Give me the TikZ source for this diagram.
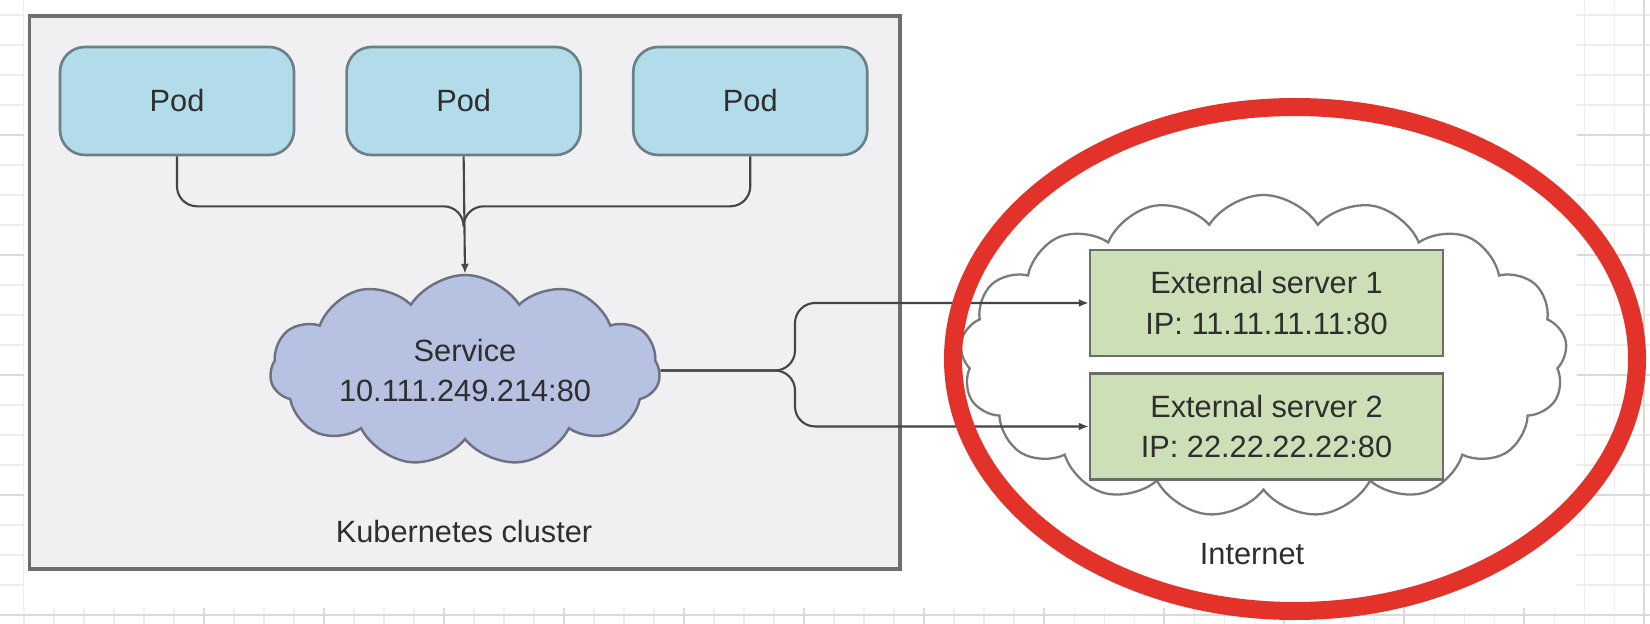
\documentclass[tikz,border=0pt]{standalone}
\usepackage{fontspec}
\setsansfont{Liberation Sans}
\usepackage{xcolor}
\usepackage{tikz}
\usetikzlibrary{arrows.meta, positioning, shapes.symbols, calc}

\definecolor{podfill}{HTML}{B3DCEB}
\definecolor{poddraw}{HTML}{6D7F86}
\definecolor{clusterfill}{HTML}{F0F0F2}
\definecolor{clusterdraw}{HTML}{6E6E6E}
\definecolor{svcfill}{HTML}{B7C2E3}
\definecolor{svcdraw}{HTML}{6E7180}
\definecolor{extfill}{HTML}{CCDFB6}
\definecolor{extdraw}{HTML}{6B6F66}
\definecolor{netdraw}{HTML}{7A7A7A}
\definecolor{linkgray}{HTML}{454545}
\definecolor{textgray}{HTML}{2E2E2E}
\definecolor{markred}{HTML}{E3322A}
\definecolor{gridfaint}{HTML}{EDEDED}
\definecolor{griddark}{HTML}{DADADA}

\begin{document}
\begin{tikzpicture}[
		node distance=1cm and 1cm,
		every node/.style={font=\sffamily\fontsize{17.5}{23}\selectfont, text=textgray},
		pod/.style={rectangle, draw=poddraw, line width=1.5pt, rounded corners=0.5cm, fill=podfill, minimum width=4.68cm, minimum height=2.16cm, text centered},
		cluster/.style={rectangle, draw=clusterdraw, line width=2pt, fill=clusterfill, minimum width=17.41cm, minimum height=11.06cm},
		service/.style={cloud, cloud puffs=11, cloud puff arc=115, cloud ignores aspect, draw=svcdraw, line width=1.4pt, fill=svcfill, minimum width=7.8cm, minimum height=3.82cm, align=center},
		internet/.style={cloud, cloud puffs=17, cloud puff arc=115, cloud ignores aspect, draw=netdraw, line width=1.3pt, fill=white, minimum width=12.14cm, minimum height=6.44cm},
		server/.style={rectangle, draw=extdraw, line width=1.4pt, fill=extfill, minimum width=7.06cm, minimum height=2.12cm, align=center},
		link/.style={draw=linkgray, line width=1.2pt, rounded corners=0.4cm},
		arrow/.style={link, -{Latex[length=2mm, width=1.6mm]}},
		gridline/.style={draw=gridfaint, line width=0.6pt},
		gridmajor/.style={draw=griddark, line width=0.7pt},
		highlight/.style={draw=markred, line width=0.36cm}
		]
		
		\useasboundingbox (0,0) rectangle (33,-12.48);
		
		% Sheet grid behind the screenshot
		\fill[white] (0,0) rectangle (33,-12.48);
		\foreach \gx in {0,...,54}
			\draw[gridline] (0.48+0.6*\gx,0) -- ++(0,-12.48);
		\foreach \gy in {0,...,20}
			\draw[gridline] (0,-0.3-0.6*\gy) -- ++(33,0);
		\foreach \gx in {0,...,12}
			\draw[gridmajor] (4.08+2.4*\gx,0) -- ++(0,-12.48);
		\foreach \gy in {0,...,4}
			\draw[gridmajor] (0,-2.7-2.4*\gy) -- ++(33,0);
		\fill[white] (0.48,0) rectangle (31.54,-12.16);
		
		% Nodes
		\node[cluster] (cluster) at (9.295,-5.85) {};
		\node (clusterlabel) at (9.28,-10.64) {Kubernetes cluster};
		
		\node[pod] (pod1) at (3.54,-2.02) {Pod};
		\node[pod, right=of pod1] (pod2) {Pod};
		\node[pod, right=of pod2] (pod3) {Pod};
		
		\node[service] (service) at (9.3,-7.41) {Service\\10.111.249.214:80};
		
		\node[internet] (internet) at (25.27,-7.12) {};
		\node (internetlabel) at (25.04,-11.08) {Internet};
		
		\node[server] (ext1) at (25.33,-6.06) {External server 1\\IP: 11.11.11.11:80};
		\node[server, below=0.3cm of ext1] (ext2) {External server 2\\IP: 22.22.22.22:80};
		
		\coordinate[below=1cm of pod2.south] (bus);
		\coordinate[below=0.4cm of bus] (merge);
		\coordinate (fork) at (15.9,0 |- service.east);
		
		% Connection arrows
		\draw[link] (pod1.south) |- (bus) -- (merge);
		\draw[link] (pod3.south) |- (bus) -- (merge);
		\draw[arrow] (pod2.south) -- (service.north);
		
		\draw[arrow] (service.east) -- (fork) |- (ext1.west);
		\draw[arrow] (service.east) -- (fork) |- (ext2.west);
		
		% Red mark
		\draw[highlight] (25.9,-7.18) ellipse [x radius=6.84cm, y radius=5.04cm];
		
	\end{tikzpicture}
\end{document}
